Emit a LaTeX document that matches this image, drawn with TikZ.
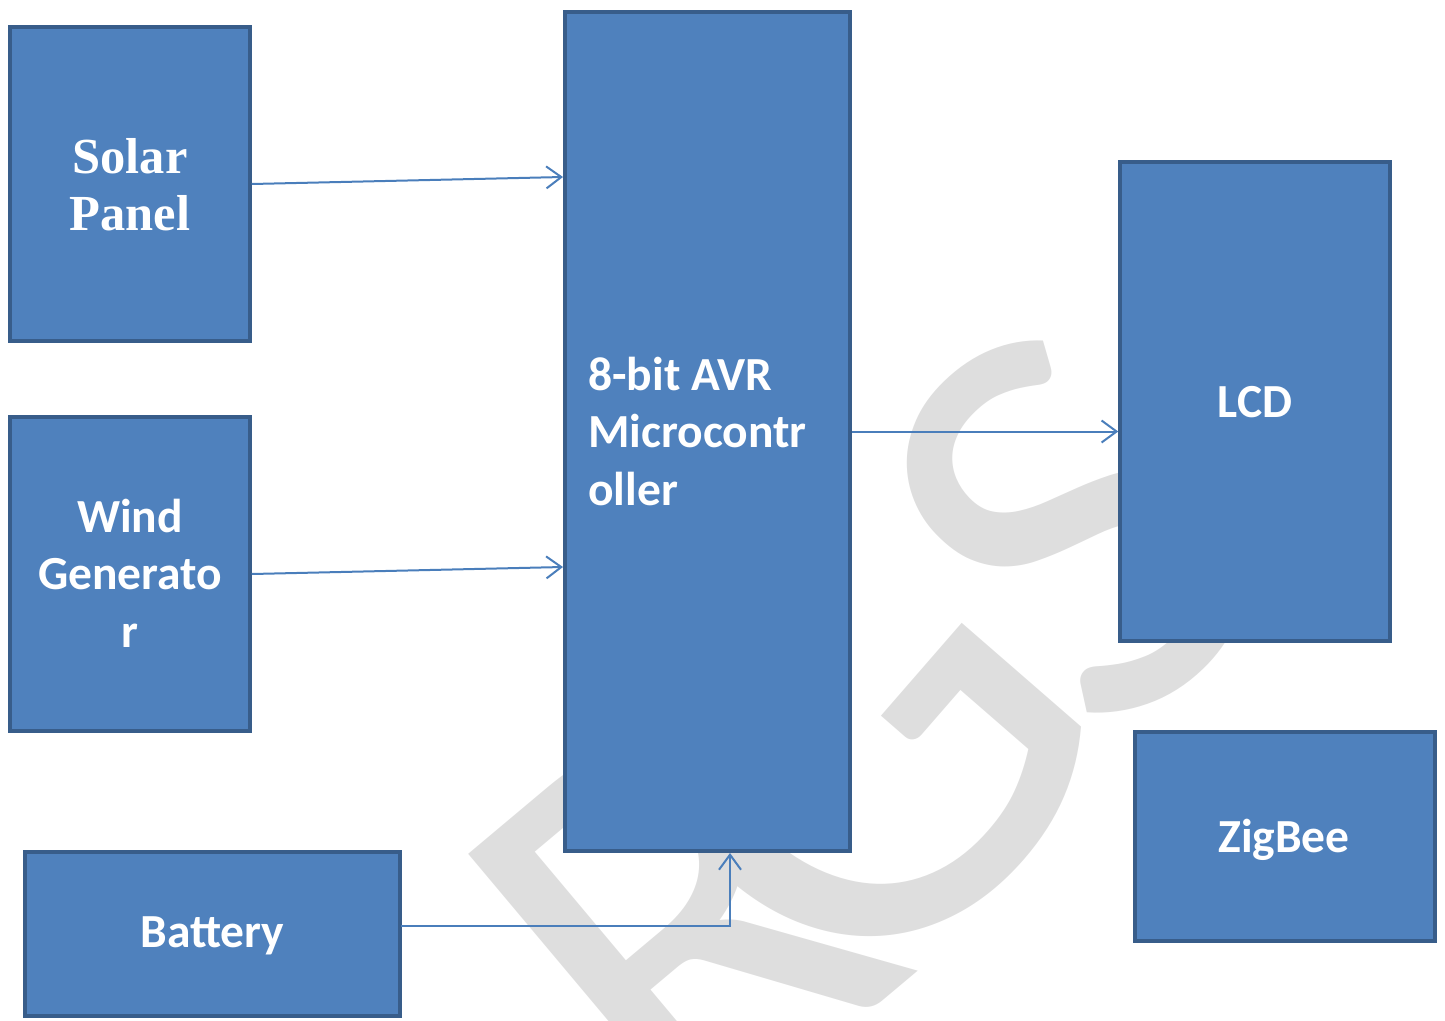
\documentclass[tikz,border=0pt]{standalone}
\usepackage{fontspec}
\setmainfont{Carlito}
\newfontfamily\lblfont{Carlito}
\newfontfamily\serfont{Liberation Serif}
\usetikzlibrary{arrows.meta}
\definecolor{boxfill}{HTML}{4F81BD}
\definecolor{boxline}{HTML}{385D8A}
\definecolor{arrowcol}{HTML}{4A7EBB}
\definecolor{wmgray}{HTML}{DEDEDE}
\tikzset{
  blk/.style={draw=boxline, fill=boxfill, line width=3.5pt, inner sep=0pt},
  lbl/.style={text=white, font=\lblfont\bfseries\fontsize{47.5}{57.5}\selectfont, inner sep=0pt, align=center},
  conn/.style={draw=arrowcol, line width=2pt, -{Straight Barb[length=15pt,width=22pt,line width=2pt]}},
  wmark/.style={text=wmgray, anchor=base west, inner sep=0pt},
}
\begin{document}
\begin{tikzpicture}[x=1pt,y=-1pt]
\useasboundingbox (0,0) rectangle (1445,1020);
% watermark
\node[wmark, rotate=40, font=\lblfont\fontsize{590}{590}\selectfont] (wmR) at (679,1172) {R};
\node[wmark, rotate=49, font=\lblfont\fontsize{640}{640}\selectfont] (wmG) at (868,1033) {G};
\node[wmark, rotate=44, font=\lblfont\fontsize{590}{590}\selectfont] (wmS) at (1107,757) {S};
% blocks
\node[blk, minimum width=240pt, minimum height=314pt] (solar) at (130,184) {};
\node[blk, minimum width=240pt, minimum height=314pt] (wind) at (130,574) {};
\node[blk, minimum width=375pt, minimum height=164pt] (battery) at (212.5,934) {};
\node[blk, minimum width=285pt, minimum height=839pt] (micro) at (707.5,431.5) {};
\node[blk, minimum width=270pt, minimum height=479pt] (lcd) at (1255,401.5) {};
\node[blk, minimum width=300pt, minimum height=209pt] (zigbee) at (1285,836.5) {};
% labels (base anchor = baseline of the last line)
\node[lbl, font=\serfont\bfseries\fontsize{50.5}{57}\selectfont, anchor=base] (solart) at (130,230) {Solar\\Panel};
\node[lbl, anchor=base] (windt) at (130,647) {Wind\\Generato\\r};
\node[lbl, anchor=base] (batt) at (212.5,947) {Battery};
\node[lbl, align=left, anchor=base west] (microt) at (588,505) {8-bit AVR\\Microcontr\\oller};
\node[lbl, anchor=base] (lcdt) at (1255,417) {LCD};
\node[lbl, anchor=base] (zigt) at (1284,852) {ZigBee};
% connectors
\coordinate (m1) at (563,177);
\coordinate (m2) at (563,567);
\coordinate (b1) at (401,926);
\coordinate (m3) at (730,853);
\draw[conn] (solar.east) -- (m1);
\draw[conn] (wind.east) -- (m2);
\draw[conn] (micro.east) -- (micro.east -| lcd.west);
\draw[conn] (b1) -| (m3);
\end{tikzpicture}
\end{document}
